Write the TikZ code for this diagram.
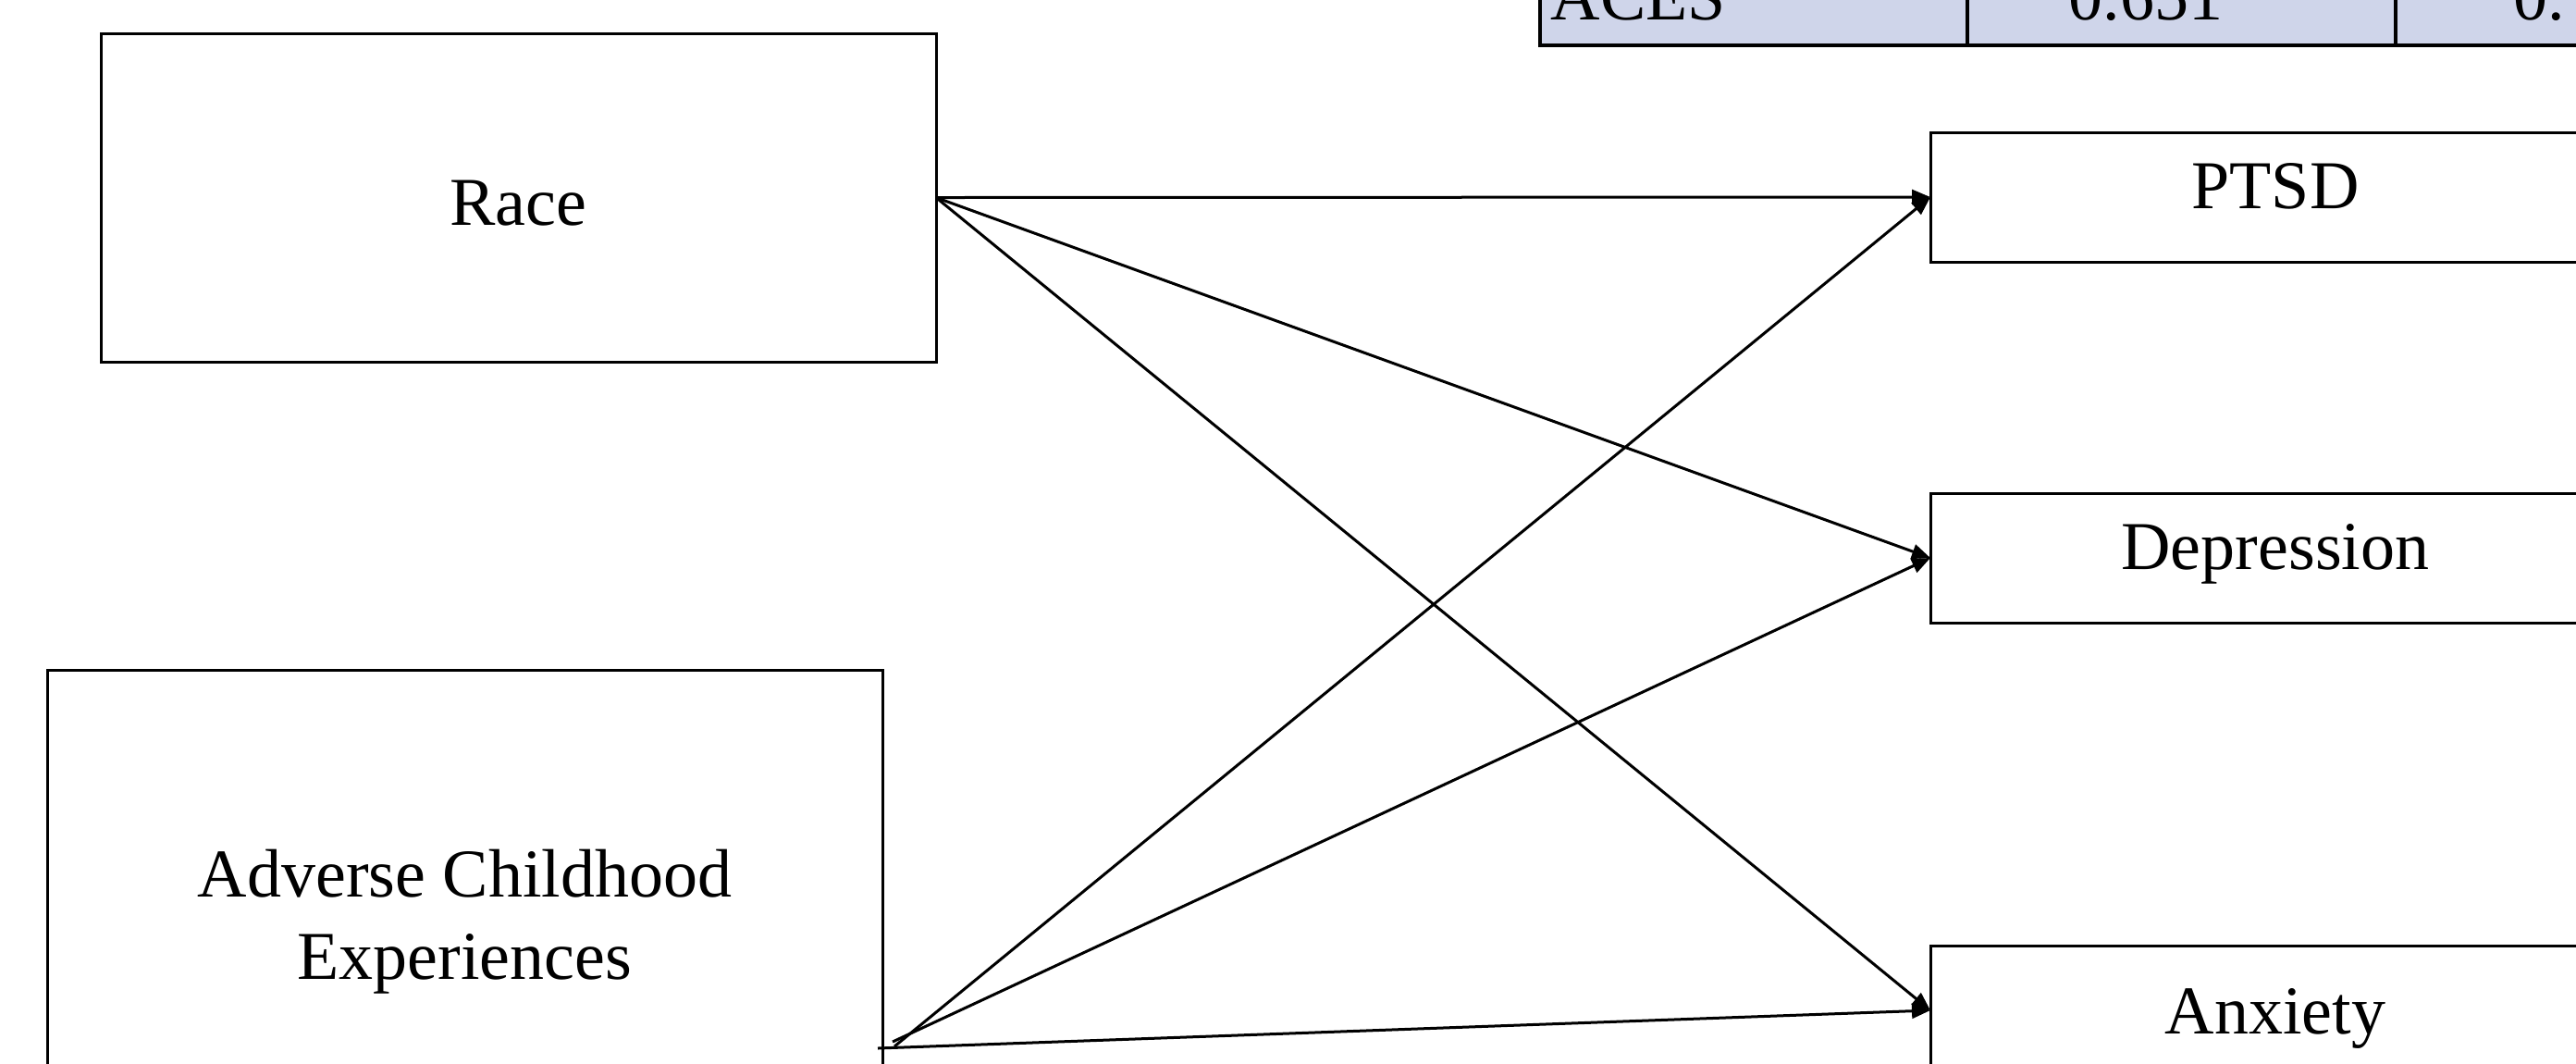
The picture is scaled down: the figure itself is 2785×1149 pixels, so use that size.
\documentclass[tikz,border=0pt]{standalone}
\usepackage{fontspec}
\setmainfont{Liberation Serif}
\usetikzlibrary{arrows.meta,calc}
\definecolor{tablefill}{RGB}{207,213,234}
\tikzset{
  boxnode/.style={draw, line width=0.75pt, inner sep=0pt, outer sep=0pt, align=center,
    font=\fontsize{18.5}{22.2}\selectfont},
  leftbox/.style={boxnode, minimum width=225.75pt},
  rightbox/.style={boxnode, minimum width=186.5pt, minimum height=35pt,
    text height=14pt, text depth=8pt},
  link/.style={line width=0.75pt, -{Triangle[length=5pt,width=4pt]}},
  tabtext/.style={inner sep=0pt, anchor=base, font=\fontsize{18.5}{22.2}\selectfont},
}
\begin{document}
\begin{tikzpicture}[x=0.25pt, y=-0.25pt]
\useasboundingbox (0,0) rectangle (2785,1149);
\clip (0,0) rectangle (2785,1149);
% table fragment at top
\fill[tablefill] (1665,-100) rectangle (2900,49);
\draw[line width=1pt] (1665,-100) -- (1665,49) -- (2900,49);
\draw[line width=1pt] (2127,-100) -- (2127,49);
\draw[line width=1pt] (2590,-100) -- (2590,49);
\node[tabtext, anchor=base west] (t1) at (1676,21) {ACES};
\node[tabtext] (t2) at (2345,21) {0.651$^{**}$};
\node[tabtext, anchor=base west] (t3) at (2717,21) {0.};
% boxes
\node[leftbox, minimum height=88.75pt, text height=14.75pt, text depth=0pt] (race) at (560.5,213.5) {Race};
\node[leftbox, minimum height=204.5pt] (ace) at (502.5,1133) {};
\node[inner sep=0pt, align=center, font=\fontsize{18.5}{22.2}\selectfont] (acetext) at (502.5,996) {Adverse Childhood\\Experiences};
\node[rightbox] (ptsd) at (2460,213) {PTSD};
\node[rightbox] (dep) at (2460,603) {Depression};
\node[rightbox, text height=16pt, text depth=3.5pt] (anx) at (2460,1092) {Anxiety};
% connectors
\coordinate (aceA) at ($(ace.east)+(13,-2)$);
\coordinate (aceB) at ($(ace.east)+(11,-7)$);
\coordinate (aceC) at ($(ace.east)+(-5,0)$);
\draw[link] (race.east) -- (ptsd.west);
\draw[link] (race.east) -- (dep.west);
\draw[link] (race.east) -- (anx.west);
\draw[link] (aceA) -- (ptsd.west);
\draw[link] (aceB) -- (dep.west);
\draw[link] (aceC) -- (anx.west);
\end{tikzpicture}
\end{document}
